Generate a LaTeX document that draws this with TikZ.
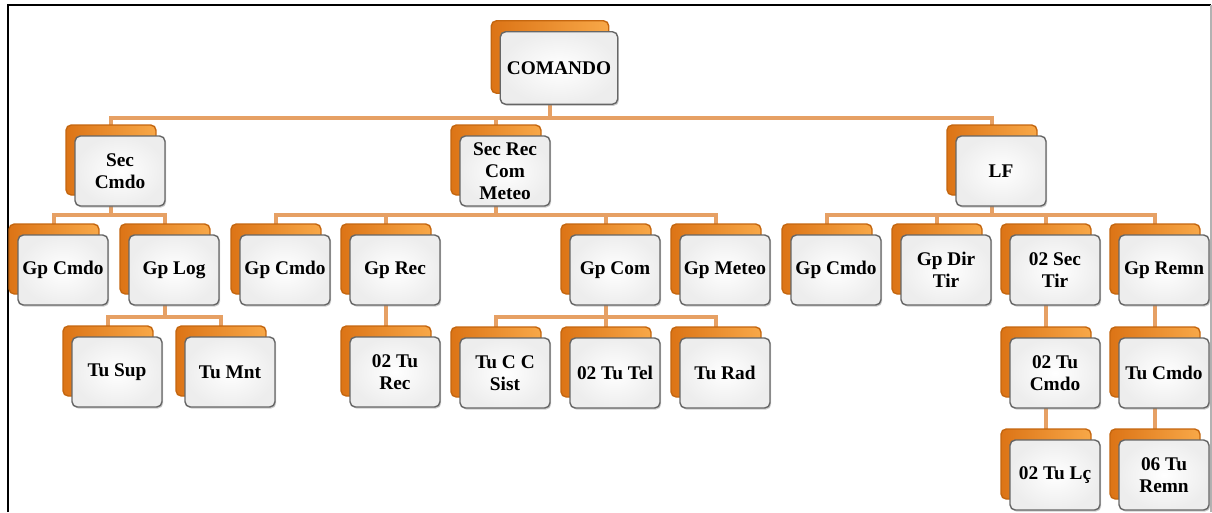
\documentclass[tikz,border=0pt]{standalone}
\usepackage{fontspec}
\setmainfont{Liberation Serif}
\usetikzlibrary{shadows,backgrounds}
\definecolor{laranjaEscuro}{HTML}{DC7416}
\definecolor{laranjaClaro}{HTML}{F8A848}
\definecolor{bordaLaranja}{HTML}{C4660F}
\definecolor{linhaLaranja}{HTML}{E6A064}
\definecolor{cinzaBorda}{HTML}{666666}

\begin{document}
\begin{tikzpicture}[x=0.02cm, y=-0.02cm,
  every node/.style={font=\bfseries\fontsize{11}{12.5}\selectfont},
  caixa/.style={draw=cinzaBorda, line width=0.8pt, rounded corners=3pt,
    inner color=white, outer color=black!7,
    minimum width=1.8cm, minimum height=1.4cm, align=center, inner sep=1pt,
    general shadow={shadow xshift=-0.18cm, shadow yshift=0.22cm,
      left color=laranjaEscuro, right color=laranjaClaro, draw=bordaLaranja},
    drop shadow={shadow xshift=0.7pt, shadow yshift=-0.9pt, opacity=0.4}},
  conn/.style={linhaLaranja, line width=2pt}]
\useasboundingbox (0,0) rectangle (1212,512);
\draw[black, line width=1.5pt] (8,512) -- (8,5) -- (1211,5);
\draw[gray!60, line width=1pt] (1211,5) -- (1211,512);

% topo
\node[caixa, minimum width=2.35cm, minimum height=1.45cm] (cmd) at (559,68) {COMANDO};
% nivel 1
\node[caixa] (secCmdo) at (120,171) {Sec\\Cmdo};
\node[caixa] (secRec) at (505,171) {Sec Rec\\Com\\Meteo};
\node[caixa] (lf) at (1001,171) {LF};
% nivel 2
\node[caixa] (gpCmdoA) at (63,270) {Gp Cmdo};
\node[caixa] (gpLog) at (174,270) {Gp Log};
\node[caixa] (gpCmdoB) at (285,270) {Gp Cmdo};
\node[caixa] (gpRec) at (395,270) {Gp Rec};
\node[caixa] (gpCom) at (615,270) {Gp Com};
\node[caixa] (gpMet) at (725,270) {Gp Meteo};
\node[caixa] (gpCmdoC) at (836,270) {Gp Cmdo};
\node[caixa] (gpDir) at (946,270) {Gp Dir\\Tir};
\node[caixa] (secTir) at (1055,270) {02 Sec\\Tir};
\node[caixa] (gpRemn) at (1164,270) {Gp Remn};
% nivel 3
\node[caixa] (tuSup) at (117,372) {Tu Sup};
\node[caixa] (tuMnt) at (230,372) {Tu Mnt};
\node[caixa] (tuRec) at (395,372) {02 Tu\\Rec};
\node[caixa] (tuCC) at (505,373) {Tu C C\\Sist};
\node[caixa] (tuTel) at (615,373) {02 Tu Tel};
\node[caixa] (tuRad) at (725,373) {Tu Rad};
\node[caixa] (tuCmdoB) at (1055,373) {02 Tu\\Cmdo};
\node[caixa] (tuCmdo) at (1164,373) {Tu Cmdo};
% nivel 4
\node[caixa] (tuLc) at (1055,475) {02 Tu Lç};
\node[caixa] (tuRemn) at (1164,475) {06 Tu\\Remn};

\begin{scope}[on background layer]
\foreach \p/\c/\d in {cmd/secCmdo/50, cmd/secRec/50, cmd/lf/50,
    secCmdo/gpCmdoA/44, secCmdo/gpLog/44,
    secRec/gpCmdoB/44, secRec/gpRec/44, secRec/gpCom/44, secRec/gpMet/44,
    lf/gpCmdoC/44, lf/gpDir/44, lf/secTir/44, lf/gpRemn/44,
    gpLog/tuSup/47, gpLog/tuMnt/47,
    gpCom/tuCC/47, gpCom/tuTel/47, gpCom/tuRad/47}
  \draw[conn] ([xshift=-0.18cm]\p.center) -- ++(0,\d) -| ([xshift=-0.18cm]\c.center);
\foreach \p/\c in {gpRec/tuRec, secTir/tuCmdoB, gpRemn/tuCmdo, tuCmdoB/tuLc, tuCmdo/tuRemn}
  \draw[conn] ([xshift=-0.18cm]\p.center) -- ([xshift=-0.18cm]\c.center);
\end{scope}
\end{tikzpicture}
\end{document}
